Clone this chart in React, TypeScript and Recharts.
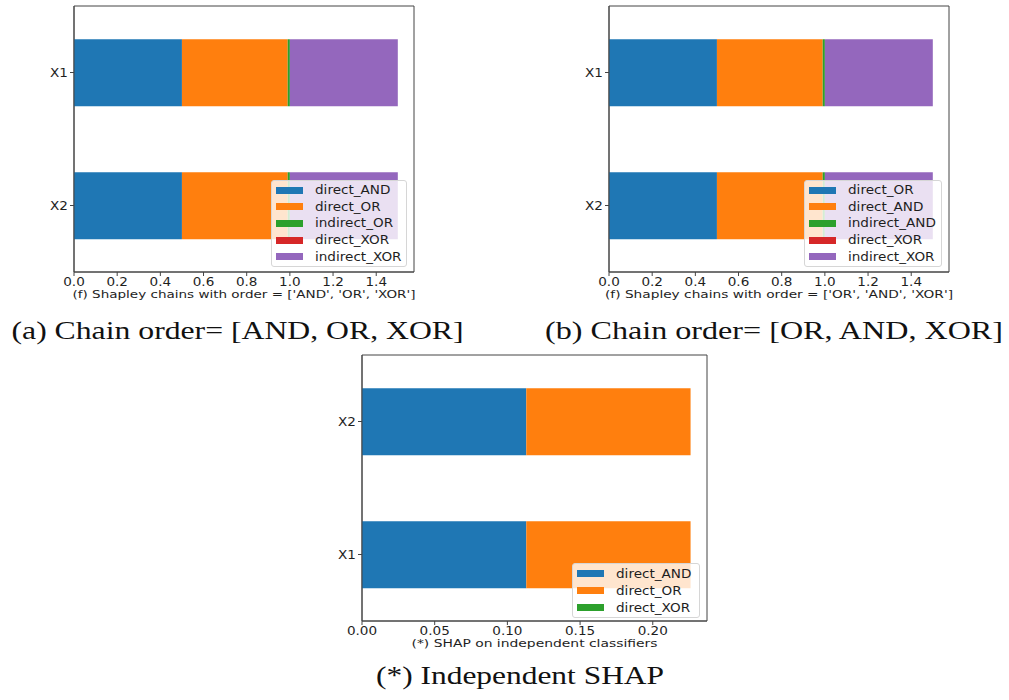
import React from 'react';
import { BarChart, Bar, XAxis, YAxis, Legend, ReferenceArea } from 'recharts';

// matplotlib tab10 colours, in stacking order
const COLORS = ['#1f77b4', '#ff7f0e', '#2ca02c', '#d62728', '#9467bd'];

// (a) chain order AND -> OR -> XOR
const featuresA = ['X1', 'X2'];
const seriesA = ['direct_AND', 'direct_OR', 'indirect_OR', 'direct_XOR', 'indirect_XOR'];
const valuesA = [
  [0.5, 0.5],
  [0.49, 0.49],
  [0.01, 0.01],
  [0, 0],
  [0.5, 0.5],
];

// (b) chain order OR -> AND -> XOR
const featuresB = ['X1', 'X2'];
const seriesB = ['direct_OR', 'direct_AND', 'indirect_AND', 'direct_XOR', 'indirect_XOR'];
const valuesB = [
  [0.5, 0.5],
  [0.49, 0.49],
  [0.01, 0.01],
  [0, 0],
  [0.5, 0.5],
];

// (*) independent SHAP
const featuresC = ['X2', 'X1'];
const seriesC = ['direct_AND', 'direct_OR', 'direct_XOR'];
const valuesC = [
  [0.113, 0.113],
  [0.113, 0.113],
  [0, 0],
];

const ticksAB = [0, 0.2, 0.4, 0.6, 0.8, 1.0, 1.2, 1.4];
const ticksC = [0, 0.05, 0.1, 0.15, 0.2];

const SPINE = '#444';
const TEXT = '#1e1e1e';
const SANS = '"DejaVu Sans", sans-serif';
const STRETCH = 1.18; // the figure was scaled wider than tall in the paper
const FONT = 11.5;

const buildRows = (features: string[], series: string[], values: number[][]) =>
  features.map((f, i) => {
    const row: Record<string, any> = { name: f };
    series.forEach((s, j) => {
      row[s] = values[j][i];
    });
    return row;
  });

const XTick = (props: any) => {
  const { x, y, payload, decimals } = props;
  return (
    <g transform={`translate(${x},${y})`}>
      <text transform={`scale(${STRETCH},1)`} textAnchor="middle" dy="0.68em" fontSize={FONT} fill={TEXT} fontFamily={SANS}>
        {Number(payload.value).toFixed(decimals)}
      </text>
    </g>
  );
};

const YTick = (props: any) => {
  const { x, y, payload } = props;
  return (
    <g transform={`translate(${x},${y})`}>
      <text transform={`scale(${STRETCH},1)`} textAnchor="end" dy="0.36em" fontSize={FONT} fill={TEXT} fontFamily={SANS}>
        {payload.value}
      </text>
    </g>
  );
};

// keep the legend in stacking order (Recharts sorts by name otherwise)
const legendContent = (series: string[], rowH: number) => (props: any) => {
  const items = series
    .map((s) => (props.payload || []).find((e: any) => e.value === s))
    .filter(Boolean);
  return (
    <div
      style={{
        background: 'rgba(255,255,255,0.8)',
        border: '1px solid #d6d6d6',
        borderRadius: 3,
        padding: '1px 0',
        boxSizing: 'border-box',
      }}
    >
      {items.map((entry: any) => (
        <div key={entry.value} style={{ height: rowH, display: 'flex', alignItems: 'center' }}>
          <span style={{ display: 'inline-block', width: 27, height: 7, marginLeft: 4, background: entry.color }} />
          <span
            style={{
              display: 'inline-block',
              marginLeft: 12,
              fontSize: FONT,
              fontFamily: SANS,
              color: TEXT,
              whiteSpace: 'nowrap',
              transform: `scaleX(${STRETCH})`,
              transformOrigin: 'left center',
            }}
          >
            {entry.value}
          </span>
        </div>
      ))}
    </div>
  );
};

interface PanelProps {
  left: number;
  top: number;
  width: number;
  height: number;
  margin: { top: number; right: number; bottom: number; left: number };
  features: string[];
  series: string[];
  values: number[][];
  xMax: number;
  ticks: number[];
  decimals: number;
  caption: string;
  captionWidth: number;
  legend: { left: number; top: number; width: number; rowH: number };
}

const Panel: React.FC<PanelProps> = (p) => {
  const data = buildRows(p.features, p.series, p.values);
  return (
    <div style={{ position: 'absolute', left: p.left, top: p.top, width: p.width, height: p.height }}>
      <BarChart width={p.width} height={p.height} data={data} layout="vertical" margin={p.margin} barCategoryGap="25%">
        <XAxis
          type="number"
          domain={[0, p.xMax]}
          ticks={p.ticks}
          allowDataOverflow
          height={30}
          tickSize={4}
          tickLine={{ stroke: SPINE }}
          axisLine={{ stroke: SPINE }}
          tick={(t: any) => <XTick {...t} decimals={p.decimals} />}
          label={{
            content: (lp: any) => {
              const vb = lp.viewBox;
              return (
                <text
                  x={vb.x + vb.width / 2}
                  y={vb.y + 22.5}
                  dy="0.36em"
                  textAnchor="middle"
                  fontSize={10.5}
                  fill={TEXT}
                  fontFamily={SANS}
                  textLength={p.captionWidth}
                  lengthAdjust="spacingAndGlyphs"
                >
                  {p.caption}
                </text>
              );
            },
          }}
        />
        <YAxis
          type="category"
          dataKey="name"
          width={40}
          tickSize={4}
          tickLine={{ stroke: SPINE }}
          axisLine={{ stroke: SPINE }}
          tick={(t: any) => <YTick {...t} />}
        />
        {p.series.map((s, i) => (
          <Bar key={s} dataKey={s} name={s} stackId="s" fill={COLORS[i]} isAnimationActive={false} />
        ))}
        <ReferenceArea x1={0} x2={p.xMax} fill="none" stroke={SPINE} strokeWidth={1} ifOverflow="visible" />
        <Legend
          layout="vertical"
          align="center"
          verticalAlign="middle"
          content={legendContent(p.series, p.legend.rowH)}
          wrapperStyle={{ position: 'absolute', left: p.legend.left, top: p.legend.top, width: p.legend.width }}
        />
      </BarChart>
    </div>
  );
};

const LATEX = '"Liberation Serif", "DejaVu Serif", serif';

export default function App() {
  return (
    <div style={{ position: 'absolute', left: 0, top: 0, width: 1009, height: 700, background: '#fff' }}>
      <Panel
        left={0}
        top={0}
        width={420}
        height={310}
        margin={{ top: 6, right: 6, bottom: 8, left: 34 }}
        features={featuresA}
        series={seriesA}
        values={valuesA}
        xMax={1.575}
        ticks={ticksAB}
        decimals={1}
        caption="(f) Shapley chains with order = ['AND', 'OR', 'XOR']"
        captionWidth={343}
        legend={{ left: 271, top: 180, width: 136, rowH: 16.6 }}
      />
      <Panel
        left={540}
        top={0}
        width={420}
        height={310}
        margin={{ top: 6, right: 11, bottom: 8, left: 29 }}
        features={featuresB}
        series={seriesB}
        values={valuesB}
        xMax={1.575}
        ticks={ticksAB}
        decimals={1}
        caption="(f) Shapley chains with order = ['OR', 'AND', 'XOR']"
        captionWidth={348}
        legend={{ left: 264, top: 180, width: 138, rowH: 16.6 }}
      />
      <Panel
        left={320}
        top={345}
        width={400}
        height={310}
        margin={{ top: 10, right: 13, bottom: 4, left: 2 }}
        features={featuresC}
        series={seriesC}
        values={valuesC}
        xMax={0.2373}
        ticks={ticksC}
        decimals={2}
        caption="(*) SHAP on independent classifiers"
        captionWidth={246}
        legend={{ left: 252, top: 218, width: 128, rowH: 17 }}
      />
      <svg width={1009} height={700} style={{ position: 'absolute', left: 0, top: 0, pointerEvents: 'none' }}>
        <text x={11.5} y={339} fontSize={26} fontFamily={LATEX} fill="#111" textLength={452} lengthAdjust="spacingAndGlyphs">
          (a) Chain order= [AND, OR, XOR]
        </text>
        <text x={545} y={339} fontSize={26} fontFamily={LATEX} fill="#111" textLength={458} lengthAdjust="spacingAndGlyphs">
          (b) Chain order= [OR, AND, XOR]
        </text>
        <text x={376} y={684} fontSize={26} fontFamily={LATEX} fill="#111" textLength={288} lengthAdjust="spacingAndGlyphs">
          (*) Independent SHAP
        </text>
      </svg>
    </div>
  );
}
